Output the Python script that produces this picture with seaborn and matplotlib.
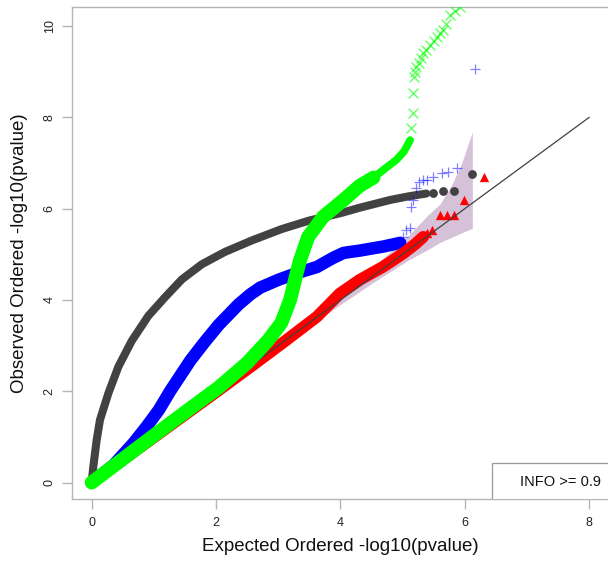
import matplotlib
matplotlib.use("Agg")
import matplotlib.pyplot as plt
import seaborn as sns
import pandas as pd
from matplotlib.patches import Rectangle

# ---------------- data ----------------
# identity line
diag_x = [0, 8]
diag_y = [0, 8]

# 95% confidence band
band_x = [0, 1, 2, 3, 3.5, 4, 4.5, 4.8, 5.1, 5.4, 5.6, 5.8, 5.95, 6.12]
band_upper = [0, 1.03, 2.05, 3.1, 3.63, 4.15, 4.7, 5.05, 5.42, 5.85, 6.1, 6.55, 7.0, 7.68]
band_lower = [0, 0.98, 1.96, 2.94, 3.42, 3.9, 4.36, 4.62, 4.88, 5.1, 5.26, 5.38, 5.47, 5.57]

# dark grey series (circles): dense part and tail
black_x = [0, 0.026, 0.08, 0.133, 0.267, 0.43, 0.643, 0.91, 1.18, 1.45, 1.77, 2.14,
           2.57, 3.05, 3.5, 4.0, 4.31, 4.8, 5.1, 5.38]
black_y = [0, 0.35, 0.93, 1.37, 1.95, 2.54, 3.1, 3.65, 4.06, 4.45, 4.78, 5.05,
           5.3, 5.55, 5.74, 5.9, 6.02, 6.19, 6.27, 6.33]
black_tail_x = [5.49, 5.65, 5.82, 6.12]
black_tail_y = [6.35, 6.39, 6.39, 6.76]

# blue series (plus signs)
blue_x = [0, 0.35, 0.67, 0.88, 1.08, 1.26, 1.42, 1.59, 1.8, 2.04, 2.36, 2.55, 2.71,
          3.0, 3.2, 3.4, 3.62, 3.88, 4.05, 4.31, 4.69, 4.96]
blue_y = [0, 0.38, 0.86, 1.22, 1.59, 2.0, 2.33, 2.68, 3.05, 3.45, 3.9, 4.12, 4.27,
          4.44, 4.54, 4.63, 4.72, 4.92, 5.03, 5.08, 5.17, 5.25]
blue_tail_x = [5.01, 5.06, 5.12, 5.14, 5.17, 5.22, 5.27, 5.33, 5.39, 5.49, 5.63, 5.73, 5.88, 6.17]
blue_tail_y = [5.38, 5.53, 5.57, 6.04, 6.19, 6.45, 6.59, 6.62, 6.63, 6.70, 6.77, 6.81, 6.90, 9.06]

# red series (triangles)
red_x = [0, 1, 2, 2.6, 3.13, 3.62, 3.99, 4.31, 4.69, 5.01, 5.20, 5.33]
red_y = [0, 0.99, 1.98, 2.58, 3.12, 3.63, 4.14, 4.44, 4.73, 5.02, 5.22, 5.38]
red_tail_x = [5.39, 5.47, 5.60, 5.71, 5.82, 5.99, 6.30]
red_tail_y = [5.46, 5.53, 5.85, 5.85, 5.86, 6.19, 6.70]

# green series (crosses): dense part, thinner part, sparse tail
green_x = [0, 1, 1.74, 2.04, 2.5, 2.84, 3.05, 3.19, 3.28, 3.35, 3.48, 3.72, 4.05, 4.31,
           4.53]
green_y = [0, 1.03, 1.78, 2.08, 2.62, 3.12, 3.5, 4.0, 4.5, 4.87, 5.38, 5.82, 6.19, 6.5,
           6.68]
green_mid_x = [4.53, 4.72, 4.9, 5.02, 5.12]
green_mid_y = [6.68, 6.88, 7.07, 7.25, 7.5]
green_tail_x = [5.14, 5.17, 5.16, 5.18, 5.20, 5.22, 5.26, 5.30, 5.33, 5.38, 5.44, 5.50,
                5.55, 5.60, 5.65, 5.70, 5.76, 5.84, 5.92]
green_tail_y = [7.76, 8.09, 8.53, 8.89, 9.0, 9.11, 9.2, 9.3, 9.40, 9.48, 9.58, 9.68,
                9.77, 9.84, 9.91, 10.05, 10.24, 10.33, 10.41]

x_ticks = [0, 2, 4, 6, 8]
y_ticks = [0, 2, 4, 6, 8, 10]
x_label = "Expected Ordered -log10(pvalue)"
y_label = "Observed Ordered -log10(pvalue)"
legend_text = "INFO >= 0.9"

# ---------------- style ----------------
sns.set_style("white")
plt.rcParams['font.family'] = ['Liberation Sans', 'DejaVu Sans']

fig = plt.figure(figsize=(6.08, 5.66), dpi=100)
ax = fig.add_axes([0.1189, 0.1184, 0.8827, 0.8687])

C_BLACK = '#424242'
C_BLUE = '#0000ff'
C_RED = '#ff0000'
C_GREEN = '#00ff00'

# confidence band
ax.fill_between(band_x, band_lower, band_upper, color='#d5c1d8', lw=0, zorder=1)

# black
sns.lineplot(x=black_x, y=black_y, color=C_BLACK, lw=5.8, estimator=None, sort=False,
             solid_capstyle='round', solid_joinstyle='round', ax=ax, zorder=3)
sns.scatterplot(x=black_tail_x, y=black_tail_y, color=C_BLACK, s=40, marker='o',
                linewidth=0, ax=ax, zorder=3)

# blue
sns.lineplot(x=blue_x, y=blue_y, color=C_BLUE, lw=9, estimator=None, sort=False,
             solid_capstyle='round', solid_joinstyle='round', ax=ax, zorder=4)
sns.scatterplot(x=blue_tail_x, y=blue_tail_y, color=C_BLUE, s=60, marker='+',
                linewidth=0.9, alpha=0.5, ax=ax, zorder=4)

# red
sns.lineplot(x=red_x, y=red_y, color=C_RED, lw=8.5, estimator=None, sort=False,
             solid_capstyle='round', solid_joinstyle='round', ax=ax, zorder=5)
sns.scatterplot(x=red_tail_x, y=red_tail_y, color=C_RED, s=45, marker='^',
                linewidth=0, ax=ax, zorder=5)

# identity line
sns.lineplot(x=diag_x, y=diag_y, color='#404040', lw=0.9, estimator=None, sort=False,
             ax=ax, zorder=5.5)

# green
sns.lineplot(x=green_x, y=green_y, color=C_GREEN, lw=10, estimator=None, sort=False,
             solid_capstyle='round', solid_joinstyle='round', ax=ax, zorder=6)
sns.lineplot(x=green_mid_x, y=green_mid_y, color=C_GREEN, lw=5.5, estimator=None,
             sort=False, solid_capstyle='round', solid_joinstyle='round', ax=ax, zorder=6)
sns.scatterplot(x=green_tail_x, y=green_tail_y, color=C_GREEN, s=50, marker='x',
                linewidth=1.0, alpha=0.6, ax=ax, zorder=6)

# axes
ax.set_xlim(-0.312, 8.317)
ax.set_ylim(-0.361, 10.41)
ax.set_xticks(x_ticks)
ax.set_yticks(y_ticks)
ax.set_xticklabels([str(v) for v in x_ticks])
ax.set_yticklabels([str(v) for v in y_ticks], rotation=90, va='center')
ax.tick_params(axis='both', direction='out', length=7, width=1, color='#b5b5b5',
               labelsize=9, labelcolor='#222222', bottom=True, left=True)
ax.tick_params(axis='x', pad=6)
ax.tick_params(axis='y', pad=5)
for s in ax.spines.values():
    s.set_color('#b5b5b5')
    s.set_linewidth(1)

ax.set_xlabel(x_label, fontsize=13.5, color='#111111')
ax.set_ylabel(y_label, fontsize=13.5, color='#111111')
ax.xaxis.set_label_coords(0.5, -0.079)
ax.yaxis.set_label_coords(-0.083, 0.5)

# legend box
ax.add_patch(Rectangle((6.44, -1), 5, 1.43, facecolor='white', edgecolor='#999999',
                       lw=0.9, zorder=7))
ax.text(7.545, 0.02, legend_text, ha='center', va='center', fontsize=10.5,
        color='#111111', zorder=8)

fig.savefig('out.png', dpi=100)
